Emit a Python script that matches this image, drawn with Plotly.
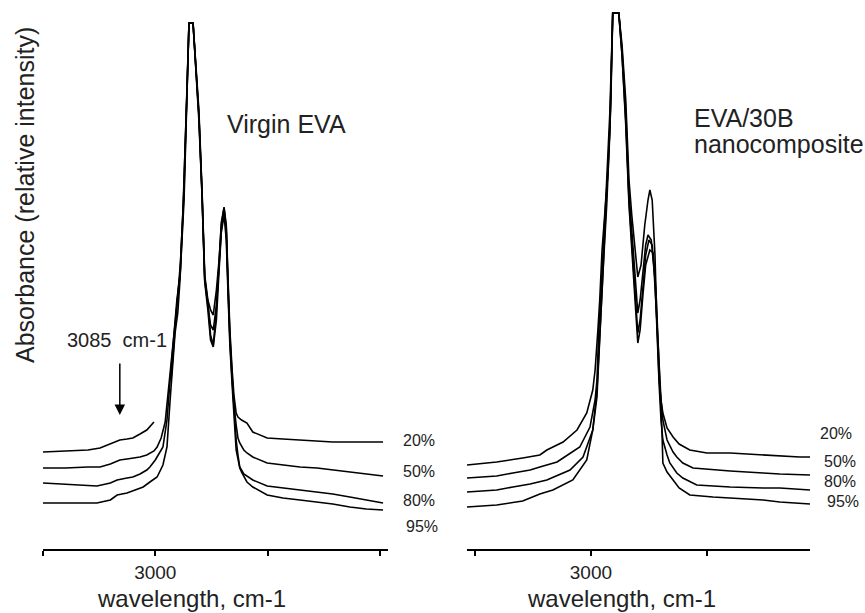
import plotly.graph_objects as go

W, H = 865, 613
PLOT_H = 549  # plot area height in px (margin top 0, bottom 64)

# ---------------- data: left panel (Virgin EVA) ----------------
L20_wn = [3250, 3200, 3150, 3123, 3100, 3079, 3063, 3050, 3034, 3019, 3003, None, 2965, 2958, 2950, 2944, 2936, 2929, 2925, 2916, 2910, 2903, 2896, 2890, 2883, 2877, 2871, 2864, 2858, 2853, 2847, 2842, 2838, 2834, 2829, 2825, 2820, 2816, 2808, 2796, 2783, 2751, 2716, 2678, 2640, 2605, 2567, 2530, 2493]
L20_abs = [0.97, 0.98, 0.99, 1.01, 1.05, 1.09, 1.10, 1.11, 1.15, 1.19, 1.27, None, 1.69, 2.09, 2.59, 2.87, 3.59, 4.69, 5.26, 5.26, 4.89, 4.39, 3.59, 2.74, 2.49, 2.39, 2.34, 2.59, 2.89, 3.24, 3.42, 3.24, 2.69, 2.19, 1.79, 1.54, 1.36, 1.32, 1.29, 1.26, 1.17, 1.11, 1.10, 1.09, 1.08, 1.07, 1.07, 1.07, 1.07]

L50_wn = [3250, 3200, 3150, 3123, 3100, 3079, 3063, 3050, 3034, 3019, 3003, 2996, 2987, 2978, 2972, 2965, 2958, 2950, 2944, 2936, 2929, 2925, 2916, 2910, 2903, 2896, 2890, 2883, 2877, 2871, 2864, 2858, 2853, 2847, 2842, 2838, 2834, 2829, 2825, 2820, 2816, 2812, 2803, 2796, 2783, 2751, 2716, 2678, 2640, 2605, 2567, 2530, 2493]
L50_abs = [0.81, 0.81, 0.82, 0.82, 0.85, 0.89, 0.90, 0.91, 0.92, 0.94, 0.98, 1.02, 1.11, 1.27, 1.54, 1.79, 2.14, 2.49, 2.79, 3.49, 4.59, 5.26, 5.26, 4.79, 4.29, 3.54, 2.69, 2.44, 2.24, 2.19, 2.44, 2.84, 3.19, 3.39, 3.17, 2.59, 2.09, 1.69, 1.44, 1.24, 1.11, 1.06, 0.99, 0.96, 0.92, 0.86, 0.84, 0.82, 0.81, 0.79, 0.77, 0.75, 0.73]

L80_wn = [3250, 3200, 3150, 3130, 3100, 3085, 3063, 3050, 3034, 3019, 3012, 3000, 2983, 2974, 2967, 2961, 2952, 2945, 2938, 2929, 2925, 2916, 2910, 2903, 2896, 2890, 2883, 2877, 2871, 2864, 2858, 2853, 2847, 2842, 2838, 2834, 2829, 2825, 2820, 2816, 2812, 2803, 2783, 2751, 2716, 2678, 2640, 2605, 2567, 2530, 2493]
L80_abs = [0.66, 0.65, 0.64, 0.63, 0.66, 0.69, 0.71, 0.72, 0.75, 0.79, 0.82, 0.89, 1.02, 1.29, 1.69, 2.04, 2.49, 2.74, 3.44, 4.64, 5.26, 5.26, 4.84, 4.34, 3.57, 2.71, 2.47, 2.14, 2.04, 2.39, 2.87, 3.27, 3.41, 3.21, 2.64, 2.14, 1.74, 1.39, 1.09, 0.94, 0.82, 0.75, 0.69, 0.63, 0.61, 0.59, 0.57, 0.55, 0.52, 0.49, 0.46]

L95_wn = [3250, 3200, 3150, 3130, 3100, 3085, 3063, 3050, 3027, 3012, 2996, 2983, 2974, 2967, 2961, 2956, 2950, 2945, 2938, 2929, 2925, 2916, 2910, 2903, 2896, 2890, 2883, 2877, 2871, 2864, 2858, 2853, 2847, 2842, 2838, 2834, 2829, 2825, 2820, 2812, 2807, 2796, 2783, 2751, 2716, 2678, 2640, 2605, 2567, 2530, 2493]
L95_abs = [0.46, 0.46, 0.46, 0.46, 0.49, 0.54, 0.56, 0.58, 0.62, 0.67, 0.72, 0.84, 1.02, 1.49, 1.89, 2.16, 2.36, 2.69, 3.39, 4.54, 5.26, 5.26, 4.84, 4.34, 3.54, 2.67, 2.39, 2.09, 2.02, 2.29, 2.79, 3.17, 3.34, 3.09, 2.54, 2.04, 1.64, 1.29, 0.99, 0.81, 0.76, 0.67, 0.62, 0.54, 0.51, 0.49, 0.47, 0.45, 0.42, 0.40, 0.39]

# ---------------- data: right panel (EVA/30B nanocomposite) ----------------
R20_wn = [3267, 3203, 3147, 3110, 3095, 3060, 3030, 3009, 2996, 2991, 2985, 2981, 2976, 2970, 2963, 2957, 2953, 2940, 2933, 2925, 2918, 2912, 2905, 2899, 2892, 2884, 2877, 2873, 2868, 2862, 2858, 2853, 2849, 2845, 2836, 2823, 2810, 2787, 2750, 2700, 2664, 2629, 2593, 2550, 2528]
R20_abs = [0.84, 0.87, 0.91, 0.94, 0.99, 1.07, 1.19, 1.36, 1.59, 1.79, 2.19, 2.49, 2.99, 3.34, 3.79, 4.49, 5.36, 5.36, 5.04, 4.49, 3.69, 3.34, 2.99, 2.72, 2.84, 3.24, 3.49, 3.59, 3.49, 2.94, 2.29, 1.79, 1.49, 1.36, 1.21, 1.12, 1.05, 0.99, 0.96, 0.96, 0.95, 0.94, 0.93, 0.92, 0.92]

R50_wn = [3267, 3203, 3168, 3131, 3110, 3073, 3060, 3024, 3002, 2991, 2987, 2983, 2978, 2972, 2966, 2959, 2953, 2940, 2933, 2925, 2918, 2912, 2905, 2899, 2894, 2888, 2882, 2877, 2870, 2864, 2858, 2853, 2849, 2845, 2836, 2823, 2815, 2802, 2780, 2737, 2700, 2629, 2593, 2528]
R50_abs = [0.71, 0.73, 0.76, 0.79, 0.82, 0.87, 0.91, 1.02, 1.22, 1.49, 1.69, 2.19, 2.59, 3.09, 3.69, 4.39, 5.36, 5.36, 4.99, 4.39, 3.54, 3.19, 2.74, 2.36, 2.49, 2.79, 3.04, 3.14, 3.09, 2.79, 2.29, 1.69, 1.44, 1.29, 1.09, 0.97, 0.92, 0.86, 0.81, 0.79, 0.78, 0.76, 0.75, 0.74]

R80_wn = [3267, 3203, 3168, 3131, 3095, 3045, 3017, 2996, 2987, 2983, 2978, 2972, 2966, 2959, 2953, 2940, 2933, 2925, 2918, 2912, 2905, 2899, 2894, 2888, 2882, 2875, 2868, 2862, 2858, 2853, 2849, 2845, 2836, 2830, 2815, 2802, 2772, 2700, 2629, 2593, 2528]
R80_abs = [0.57, 0.59, 0.62, 0.65, 0.69, 0.79, 0.92, 1.19, 1.52, 1.89, 2.39, 2.89, 3.49, 4.24, 5.36, 5.36, 4.94, 4.29, 3.49, 3.09, 2.59, 2.16, 2.29, 2.64, 2.94, 3.09, 3.04, 2.69, 2.19, 1.64, 1.29, 1.09, 0.94, 0.86, 0.76, 0.71, 0.64, 0.62, 0.61, 0.61, 0.59]

R95_wn = [3267, 3203, 3147, 3131, 3110, 3082, 3039, 3009, 2996, 2987, 2983, 2978, 2972, 2966, 2959, 2953, 2940, 2933, 2925, 2918, 2912, 2905, 2899, 2894, 2888, 2882, 2873, 2866, 2860, 2856, 2851, 2847, 2845, 2836, 2823, 2810, 2787, 2737, 2664, 2629, 2593, 2528]
R95_abs = [0.42, 0.44, 0.48, 0.51, 0.55, 0.59, 0.69, 0.89, 1.19, 1.59, 1.99, 2.49, 2.94, 3.44, 4.19, 5.36, 5.36, 4.94, 4.24, 3.44, 3.04, 2.49, 2.06, 2.19, 2.54, 2.84, 2.99, 2.96, 2.59, 2.09, 1.59, 1.19, 0.86, 0.77, 0.69, 0.61, 0.54, 0.52, 0.50, 0.49, 0.47, 0.45]

humidity_labels = ["20%", "50%", "80%", "95%"]
tick_vals = [3250, 3000, 2750, 2500]
tick_text = ["", "3000", "", ""]

FONT = "Liberation Sans, Arial, Helvetica, sans-serif"
TXT = "#222222"

fig = go.Figure()
left = [(L20_wn, L20_abs), (L50_wn, L50_abs), (L80_wn, L80_abs), (L95_wn, L95_abs)]
right = [(R20_wn, R20_abs), (R50_wn, R50_abs), (R80_wn, R80_abs), (R95_wn, R95_abs)]
for (wn, ab), name in zip(left, humidity_labels):
    fig.add_trace(go.Scatter(x=wn, y=ab, mode="lines", name=name, xaxis="x", yaxis="y",
                             line=dict(color="black", width=1.6), connectgaps=False,
                             showlegend=False, hoverinfo="skip"))
for (wn, ab), name in zip(right, humidity_labels):
    fig.add_trace(go.Scatter(x=wn, y=ab, mode="lines", name=name, xaxis="x2", yaxis="y",
                             line=dict(color="black", width=1.6), connectgaps=False,
                             showlegend=False, hoverinfo="skip"))

def px(x):
    return x / W

def py(y):
    return (PLOT_H - y) / PLOT_H

axis_common = dict(showgrid=False, zeroline=False, showline=True, linecolor="black", linewidth=1.5,
                   ticks="outside", ticklen=5, tickwidth=1.5, tickcolor="black",
                   tickvals=tick_vals, ticktext=tick_text,
                   tickfont=dict(family=FONT, size=19, color=TXT), anchor="y",
                   ticklabelstandoff=0)

fig.update_layout(
    width=W, height=H,
    margin=dict(l=0, r=0, t=0, b=H - PLOT_H),
    paper_bgcolor="white", plot_bgcolor="white",
    xaxis=dict(domain=[px(43), px(388)], range=[3250, 2482], **axis_common),
    xaxis2=dict(domain=[px(467), px(810)], range=[3267, 2528], **axis_common),
    yaxis=dict(range=[0, 5.49], visible=False, fixedrange=True),
)

ann = []
def text(t, x, y, size, xanchor="center", angle=0):
    ann.append(dict(text=t, x=px(x), y=py(y), xref="paper", yref="paper", showarrow=False,
                    xanchor=xanchor, yanchor="middle", textangle=angle,
                    font=dict(family=FONT, size=size, color=TXT)))

text("Absorbance (relative intensity)", 25, 195, 25, angle=-90)
text("Virgin EVA", 286, 124, 25)
text("EVA/30B", 692, 118, 25, xanchor="left")
text("nanocomposite", 692, 144, 25, xanchor="left")
text("3085&nbsp;&nbsp;cm-1", 117, 340, 20)
text("wavelength, cm-1", 191, 598, 24)
text("wavelength, cm-1", 621, 598, 24)

left_label_pos = [(401, 440), (401, 471), (401, 500), (404, 526)]
right_label_pos = [(818, 433), (822, 461), (822, 481), (825, 501)]
for lab, (x, y) in zip(humidity_labels, left_label_pos):
    text(lab, x, y, 16, xanchor="left")
for lab, (x, y) in zip(humidity_labels, right_label_pos):
    text(lab, x, y, 16, xanchor="left")

# arrow pointing at the 3085 cm-1 shoulder
ann.append(dict(x=3079, y=1.34, xref="x", yref="y", ax=0, ay=-53, axref="pixel", ayref="pixel",
                text="", showarrow=True, arrowhead=2, arrowsize=1.4, arrowwidth=1.5,
                arrowcolor="black", standoff=0))

fig.update_layout(annotations=ann)
fig.write_html(
    "out.html",
    config={"displayModeBar": False},
    post_script="document.body.style.margin='0';document.body.style.padding='0';document.body.style.overflow='hidden';",
)
